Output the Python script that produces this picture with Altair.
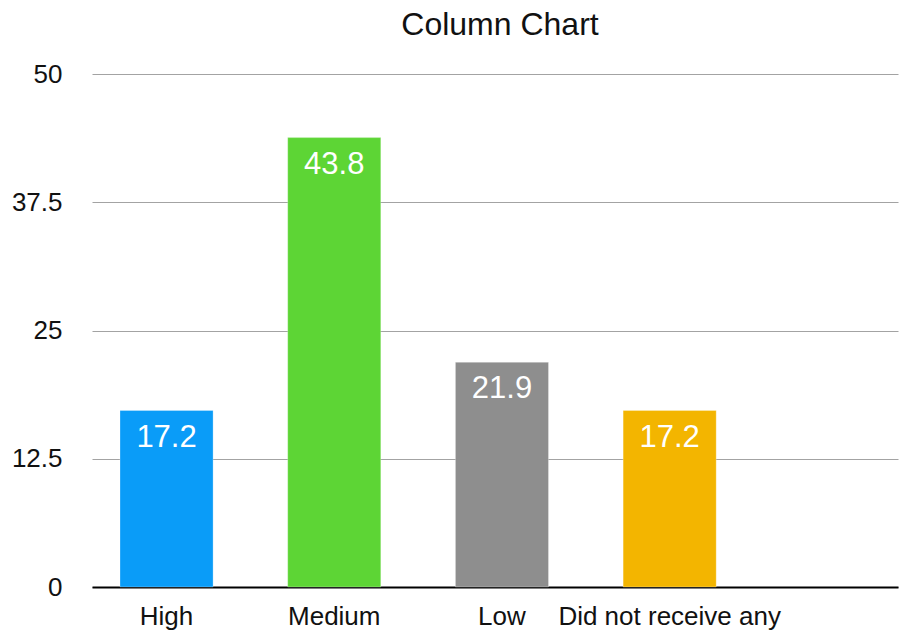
import altair as alt
import pandas as pd

# Share of responses per support level
categories = ["High", "Medium", "Low", "Did not receive any"]
values = [17.2, 43.8, 21.9, 17.2]
colors = ["#0A9CF8", "#5DD535", "#8E8E8E", "#F3B500"]
y_ticks = [0, 12.5, 25, 37.5, 50]

df = pd.DataFrame({"category": categories, "value": values})

FONT = "Liberation Sans"

x = alt.X(
    "category:N",
    sort=categories,
    title=None,
    scale=alt.Scale(paddingInner=0.445, paddingOuter=0.6255, align=0.1335),
    axis=alt.Axis(
        labelAngle=0,
        labelFontSize=26,
        labelFont=FONT,
        labelColor="#111111",
        labelPadding=16,
        labelLimit=0,
        labelOverlap=False,
        ticks=False,
        domainColor="#000000",
        domainWidth=2,
        grid=False,
    ),
)

y = alt.Y(
    "value:Q",
    title=None,
    scale=alt.Scale(domain=[0, 50], nice=False),
    axis=alt.Axis(
        values=y_ticks,
        labelExpr="toString(datum.value)",
        labelFontSize=26,
        labelFont=FONT,
        labelColor="#111111",
        labelPadding=30,
        ticks=False,
        domain=False,
        gridColor="#A3A3A3",
        gridWidth=1.2,
    ),
)

bars = alt.Chart(df).mark_bar(strokeWidth=0.8, strokeOpacity=0.35, stroke="#ffffff").encode(
    x=x,
    y=y,
    color=alt.Color("category:N", scale=alt.Scale(domain=categories, range=colors), legend=None),
)

labels = alt.Chart(df).mark_text(
    baseline="alphabetic", dy=36, fontSize=31, font=FONT, color="white"
).encode(
    x=alt.X("category:N", sort=categories),
    y="value:Q",
    text=alt.Text("value:Q", format=".1f"),
)

chart = (
    alt.layer(bars, labels)
    .properties(
        width=806,
        height=513,
        title=alt.TitleParams(
            "Column Chart",
            fontSize=32,
            font=FONT,
            fontWeight="normal",
            color="#111111",
            anchor="middle",
            dx=5,
            offset=19,
        ),
        autosize=alt.AutoSizeParams(type="none"),
        padding={"left": 92, "top": 74, "right": 2, "bottom": 43},
    )
    .configure_view(stroke=None)
)

chart.save("out.html", embed_options={"renderer": "svg", "actions": False})
